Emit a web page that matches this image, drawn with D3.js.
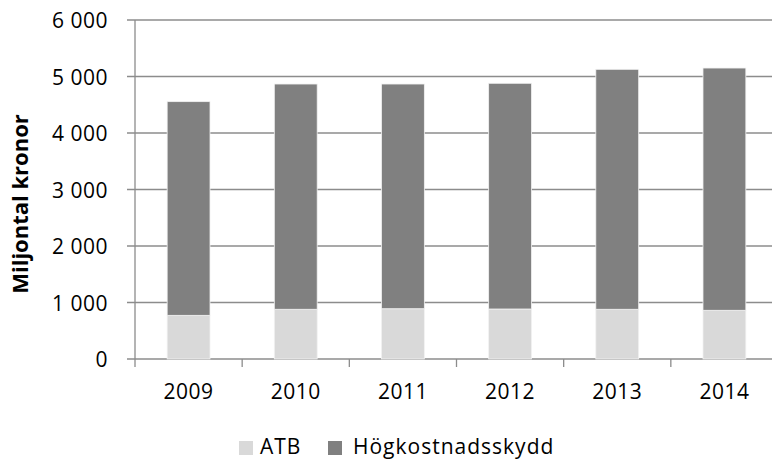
<!DOCTYPE html>
<html>
<head>
<meta charset="utf-8">
<script src="https://cdn.jsdelivr.net/npm/d3@7"></script>
<style>
  body { margin: 0; background: #fff; }
  svg { display: block; font-family: "Open Sans", sans-serif; }
</style>
</head>
<body>
<svg id="chart"></svg>
<script>
let years = ['2009', '2010', '2011', '2012', '2013', '2014']
let atb = [773, 880, 890, 885, 880, 862]
let totals = [4555, 4867, 4867, 4880, 5127, 5150]
let hogkostnad = totals.map((t, i) => t - atb[i])
let seriesNames = ['ATB', 'Högkostnadsskydd']
let colors = ['#d9d9d9', '#808080']
let yTicks = [0, 1000, 2000, 3000, 4000, 5000, 6000]

let w = 772
let h = 460
let plotLeft = 135
let plotRight = 778
let plotTop = 20
let plotBottom = 359

let svg = d3.select('#chart').attr('width', w).attr('height', h)

let rows = years.map((y, i) => ({ year: y, ATB: atb[i], 'Högkostnadsskydd': hogkostnad[i] }))
let stacked = d3.stack().keys(seriesNames)(rows)

let xScale = d3.scaleBand().domain(years).range([plotLeft, plotRight]).paddingInner(0.6).paddingOuter(0.3)
let xTickScale = d3.scaleLinear().domain([0, years.length]).range([plotLeft, plotRight])
let yScale = d3.scaleLinear().domain([0, 6000]).range([plotBottom, plotTop])

let fmt = (d) => d3.format(',')(d).replace(',', ' ')

// gridlines
svg.append('g')
  .selectAll('line')
  .data(yTicks)
  .enter()
  .append('line')
  .attr('x1', plotLeft - 8)
  .attr('x2', plotRight)
  .attr('y1', (d) => yScale(d))
  .attr('y2', (d) => yScale(d))
  .attr('stroke', '#8c8c8c')
  .attr('stroke-width', 1.3)

// bars
svg.append('g')
  .selectAll('g')
  .data(stacked)
  .enter()
  .append('g')
  .attr('fill', (d, i) => colors[i])
  .selectAll('rect')
  .data((d) => d)
  .enter()
  .append('rect')
  .attr('x', (d) => xScale(d.data.year))
  .attr('width', xScale.bandwidth())
  .attr('y', (d) => yScale(d[1]))
  .attr('height', (d) => yScale(d[0]) - yScale(d[1]))
  .attr('stroke', '#f2f2f2')
  .attr('stroke-width', 0.8)

// y axis line
svg.append('line')
  .attr('x1', plotLeft).attr('x2', plotLeft)
  .attr('y1', plotTop).attr('y2', plotBottom)
  .attr('stroke', '#8c8c8c')
  .attr('stroke-width', 1.3)

// x ticks
svg.append('g')
  .selectAll('line')
  .data(d3.range(years.length + 1))
  .enter()
  .append('line')
  .attr('x1', (d) => xTickScale(d))
  .attr('x2', (d) => xTickScale(d))
  .attr('y1', plotBottom)
  .attr('y2', plotBottom + 8)
  .attr('stroke', '#8c8c8c')
  .attr('stroke-width', 1.3)

// y tick labels
svg.append('g')
  .selectAll('text')
  .data(yTicks)
  .enter()
  .append('text')
  .attr('x', 108)
  .attr('y', (d) => yScale(d) + 8)
  .attr('text-anchor', 'end')
  .attr('font-size', 21)
  .attr('letter-spacing', 0.5)
  .attr('fill', '#000')
  .text((d) => fmt(d))

// x labels
svg.append('g')
  .selectAll('text')
  .data(years)
  .enter()
  .append('text')
  .attr('x', (d) => xScale(d) + xScale.bandwidth() / 2)
  .attr('y', 399)
  .attr('text-anchor', 'middle')
  .attr('font-size', 21)
  .attr('letter-spacing', 0.5)
  .attr('fill', '#000')
  .text((d) => d)

// y title
svg.append('text')
  .attr('transform', 'translate(28, 204) rotate(-90)')
  .attr('text-anchor', 'middle')
  .attr('font-size', 22)
  .attr('font-weight', 'bold')
  .attr('fill', '#000')
  .text('Miljontal kronor')

// legend
let legendX = [239, 328]
let legend = svg.append('g')
  .selectAll('g')
  .data(seriesNames)
  .enter()
  .append('g')
  .attr('transform', (d, i) => 'translate(' + legendX[i] + ', 440)')
legend.append('rect')
  .attr('width', 14).attr('height', 14)
  .attr('y', 1)
  .attr('fill', (d, i) => colors[i])
legend.append('text')
  .attr('x', (d, i) => i == 0 ? 21 : 25)
  .attr('y', 14)
  .attr('font-size', 21)
  .attr('letter-spacing', 1)
  .attr('fill', '#000')
  .text((d) => d)
</script>
</body>
</html>
